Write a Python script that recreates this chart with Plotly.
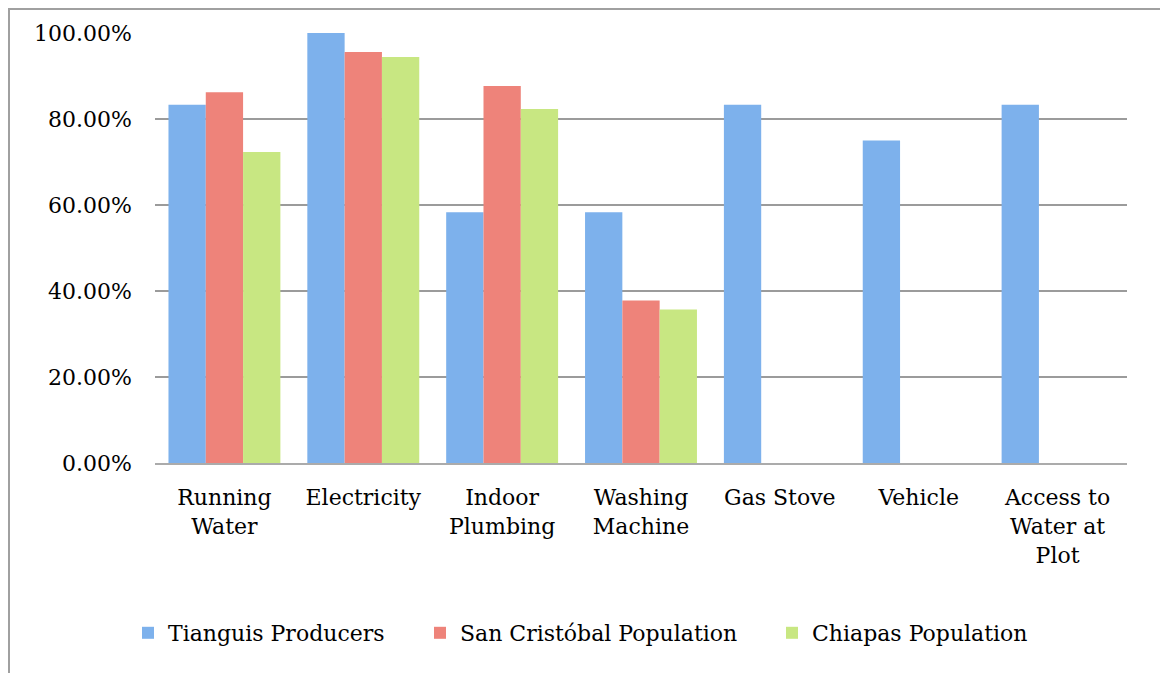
import plotly.graph_objects as go

categories = ["Running<br>Water", "Electricity", "Indoor<br>Plumbing", "Washing<br>Machine",
              "Gas Stove", "Vehicle", "Access to<br>Water at<br>Plot"]
tianguis = [0.8333, 1.0, 0.5833, 0.5833, 0.8333, 0.75, 0.8333]
san_cristobal = [0.862, 0.956, 0.877, 0.378, None, None, None]
chiapas = [0.723, 0.944, 0.823, 0.357, None, None, None]
series_names = ["Tianguis Producers", "San Cristóbal Population", "Chiapas Population"]
y_ticks = [0, 0.2, 0.4, 0.6, 0.8, 1.0]

colors = ["#7db1ec", "#ee837a", "#c8e782"]
FONT = "DejaVu Serif"

fig = go.Figure()
for i, (name, vals) in enumerate(zip(series_names, [tianguis, san_cristobal, chiapas])):
    fig.add_trace(go.Bar(
        x=categories, y=vals, name=name,
        marker=dict(color=colors[i], line=dict(width=0)),
        legend=["legend", "legend2", "legend3"][i],
        hoverinfo="skip",
    ))

L, R, T, B = 155, 33, 33, 210
W, H = 1160, 673
pw, ph = W - L - R, H - T - B

legend_common = dict(orientation="h", yanchor="middle", xanchor="left",
                     font=dict(family=FONT, size=22, color="#000"),
                     bgcolor="rgba(0,0,0,0)", borderwidth=0)
ly = (463 - 633) / ph

fig.update_layout(
    width=W, height=H,
    margin=dict(l=L, r=R, t=T, b=B),
    paper_bgcolor="white", plot_bgcolor="white",
    barmode="group", bargap=0.194, bargroupgap=0,
    font=dict(family=FONT, size=22, color="#000"),
    showlegend=True,
    legend=dict(x=(128 - L) / pw, y=ly, **legend_common),
    legend2=dict(x=(420 - L) / pw, y=ly, **legend_common),
    legend3=dict(x=(772 - L) / pw, y=ly, **legend_common),
    xaxis=dict(showgrid=False, showline=True, linecolor="#ababab", linewidth=2,
               ticks="", tickfont=dict(family=FONT, size=22, color="#000"),
               ticklabelstandoff=14, fixedrange=True),
    yaxis=dict(range=[0, 1.0], tickvals=y_ticks, tickformat=".2%",
               showgrid=True, gridcolor="#9b9b9b", gridwidth=2,
               zeroline=False, showline=False, ticks="",
               tickfont=dict(family=FONT, size=22, color="#000"),
               ticklabelstandoff=22, fixedrange=True),
    shapes=[dict(type="rect", xref="paper", yref="paper",
                 x0=(9 - L) / pw, x1=(1170 - L) / pw,
                 y0=(463 - 690) / ph, y1=(463 - 9) / ph,
                 line=dict(color="#a0a0a0", width=2), fillcolor="rgba(0,0,0,0)",
                 layer="below")],
)

fig.write_html("out.html")
